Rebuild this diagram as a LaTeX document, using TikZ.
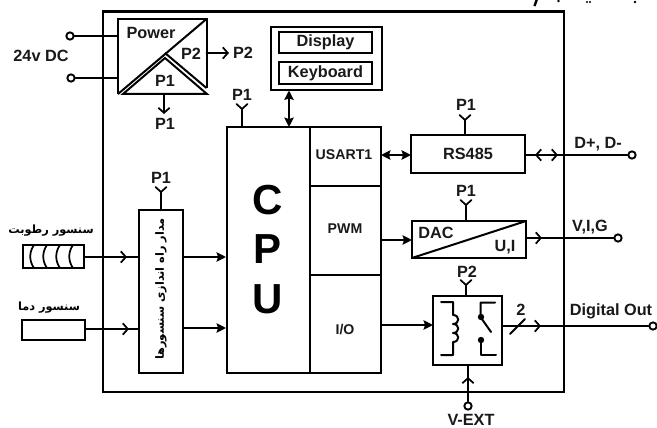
\documentclass[tikz,border=0pt]{standalone}
\usepackage{fontspec}
\setmainfont{Liberation Sans}
\newfontfamily\arabicfont[Script=Arabic]{DejaVu Sans}
\TeXXeTstate=1
\usetikzlibrary{arrows.meta}
\tikzset{
  x=0.75pt,y=-0.75pt,
  wire/.style={line width=1.5pt,line cap=round,line join=round},
  box/.style={line width=1.5pt,line join=miter},
  lbl/.style={font=\bfseries\fontsize{12.2}{14}\selectfont,inner sep=0pt,text=black!90},
  slbl/.style={font=\bfseries\fontsize{10.6}{12}\selectfont,inner sep=0pt,text=black!90},
  arlbl/.style={inner sep=0pt,font=\arabicfont\bfseries\fontsize{8.5}{10}\selectfont},
  big/.style={font=\bfseries\fontsize{31.5}{32}\selectfont,inner sep=0pt},
  term/.style={circle,draw,line width=1.4pt,fill=white,minimum size=5.5pt,inner sep=0pt},
  opn/.style={-{Straight Barb[length=3.8pt,width=8.5pt,line width=1.3pt]}},
  solidtip/.style={-{Stealth[length=7pt,width=7pt,inset=1pt]}},
  bothtip/.style={{Stealth[length=7pt,width=7pt,inset=1pt]}-{Stealth[length=7pt,width=7pt,inset=1pt]}},
  ytip/.style={line width=1.3pt,line cap=round,line join=miter},
}
\newcommand{\antenna}[3]{% x, ybase, ytip
  \draw[wire] (#1,#2) -- (#1,#3);
  \draw[ytip] (#1-5.5,#3-5) -- (#1,#3) -- (#1+5.5,#3-5);
}
\begin{document}
\begin{tikzpicture}
\useasboundingbox (0,0) rectangle (657,428);
% clipped fragments at the top edge
\begin{scope}
\clip (0,0) rectangle (657,428);
\draw[line width=1.8pt] (537,-1) -- (534.5,6);
\fill (558.5,1) circle (1.3);
\fill (587,2) circle (1.2);
\fill (590,2) circle (1.2);
\fill (635,2) circle (1.3);
\end{scope}
% outer frame
\draw[line width=2.1pt] (103,11.5) rectangle (564,392);
% power
\draw[box] (206.5,88) -- (206.5,19) -- (118,19) -- (118,94);
\draw[box] (118,94) -- (206.5,19);
\draw[box] (123,94) -- (165,58) -- (207,94) -- cycle;
\draw[box] (165,53) -- (206.5,88);
\node[term] (t1) at (70,36) {};
\node[term] (t2) at (71,78) {};
\coordinate (pwA) at (118,36);
\coordinate (pwB) at (118,78);
\draw[wire] (t1) -- (pwA);
\draw[wire] (t2) -- (pwB);
\node[lbl] at (41,56) {24v DC};
\node[lbl] at (151,33) {Power};
\node[lbl] at (191,54) {P2};
\node[lbl] at (165,81) {P1};
\coordinate (pwR) at (206.5,53);
\coordinate (p2o) at (229,53);
\draw[wire,opn] (pwR) -- (p2o);
\node[lbl] at (243,53) {P2};
\coordinate (pwD) at (164,94);
\coordinate (p1o) at (164,114);
\draw[wire,opn] (pwD) -- (p1o);
\node[lbl] at (165,124) {P1};
% display
\node[draw,line width=1.1pt,minimum width=83.25pt,minimum height=47.25pt,inner sep=0pt] (disp) at (326.5,58.5) {};
\node[draw,box,minimum width=69.75pt,minimum height=15.75pt,inner sep=0pt,lbl] (d1) at (325.5,42.5) {Display};
\node[draw,box,minimum width=69.75pt,minimum height=16.5pt,inner sep=0pt,lbl] (d2) at (325.5,73) {Keyboard};
% cpu
\draw[box] (227,127) rectangle (381,373);
\draw[box] (310,127) -- (310,373);
\draw[box] (310,186) -- (381,186);
\draw[box] (310,275) -- (381,275);
\coordinate (dsb) at (289,90.5);
\coordinate (cpt) at (289,127);
\draw[wire,bothtip] (dsb) -- (cpt);
\antenna{242}{127}{109}
\node[lbl] at (242,95) {P1};
\node[big] at (268,200) {C};
\node[big] at (268,249) {P};
\node[big] at (268,299) {U};
\node[slbl] at (344,155) {USART1};
\node[slbl] at (345,229) {PWM};
\node[slbl] at (345,330) {I/O};
% sensor driver
\draw[box] (139,210) rectangle (183,373);
\antenna{161}{210}{192}
\node[lbl] at (161,178) {P1};
\node[arlbl,rotate=90] at (161,289) {\beginR مدار راه اندازی سنسورها\endR};
% sensors
\draw[box] (23,245) rectangle (84,268);
\foreach \xx in {31,44,57,70}
  \draw[line width=1.3pt] (\xx+3,245) .. controls (\xx-2,252) and (\xx-2,261) .. (\xx+3,268);
\node[arlbl] at (51,231) {\beginR سنسور رطوبت\endR};
\draw[box] (22,320) rectangle (85,340);
\node[arlbl] at (49,308) {\beginR سنسور دما\endR};
\draw[wire] (84,257) -- (139,257);
\draw[wire] (85,329) -- (139,329);
\coordinate (s1) at (84,257); \coordinate (s1t) at (127,257);
\coordinate (s2) at (85,329); \coordinate (s2t) at (129,329);
\draw[wire,opn] (s1) -- (s1t);
\draw[wire,opn] (s2) -- (s2t);
\coordinate (a1) at (183,257); \coordinate (b1) at (226,257);
\coordinate (a2) at (183,328); \coordinate (b2) at (226,328);
\draw[wire,solidtip] (a1) -- (b1);
\draw[wire,solidtip] (a2) -- (b2);
% rs485
\node[draw,box,minimum width=85.5pt,minimum height=28.5pt,inner sep=0pt,lbl] (rs) at (468,154) {RS485};
\antenna{465}{135}{120}
\node[lbl] at (466,105) {P1};
\coordinate (u1) at (381,155); \coordinate (u2) at (411,155);
\draw[wire,bothtip] (u1) -- (u2);
\node[term] (t3) at (632,155) {};
\draw[wire] (525,155) -- (t3);
\coordinate (rsA) at (548,155); \coordinate (rsB) at (535,155); \coordinate (rsC) at (558,155);
\draw[wire,opn] (rsA) -- (rsB);
\draw[wire,opn] (rsA) -- (rsC);
\node[lbl] at (598,144) {D+, D-};
% dac
\draw[box] (412,221) rectangle (526,258);
\draw[box] (412,258) -- (526,221);
\antenna{466}{221}{205}
\node[lbl] at (466,191) {P1};
\node[lbl] at (436,233) {DAC};
\node[lbl] at (505,247) {U,I};
\coordinate (p1) at (381,240); \coordinate (p2) at (412,240);
\draw[wire,solidtip] (p1) -- (p2);
\node[term] (t4) at (618,238) {};
\draw[wire] (526,238) -- (t4);
\coordinate (da) at (526,238); \coordinate (db) at (542,238);
\draw[wire,opn] (da) -- (db);
\node[lbl] at (590,227) {V,I,G};
% relay
\draw[box] (433,296) rectangle (502,365);
\antenna{466}{296}{285}
\node[lbl] at (467,272) {P2};
\coordinate (io1) at (381,325); \coordinate (io2) at (433,325);
\draw[wire,solidtip] (io1) -- (io2);
\draw[wire] (441,302) -- (453,302) -- (453,315)
  .. controls (460,315) and (460,324) .. (453,324)
  .. controls (460,324) and (460,333) .. (453,333)
  .. controls (460,333) and (460,342) .. (453,342)
  -- (453,355) -- (441,355);
\draw[wire] (495,302.5) -- (480.5,302.5) -- (480.5,317) -- (491,332);
\draw[wire] (481,340) -- (481,355) -- (496,355);
\fill (481,317) circle (3.2);
\fill (481,340) circle (3.2);
\node[term] (t5) at (653,326) {};
\draw[wire] (502,326) -- (t5);
\coordinate (ra) at (502,326); \coordinate (rb) at (541,326);
\draw[wire,opn] (ra) -- (rb);
\draw[wire] (510,334) -- (525,319);
\node[lbl] at (521,310) {2};
\node[lbl] at (611,311) {Digital Out};
\node[term] (t6) at (468,406) {};
\draw[wire] (t6) -- (468,365);
\coordinate (va) at (468,400); \coordinate (vb) at (468,377);
\draw[wire,opn] (va) -- (vb);
\node[lbl] at (471,420) {V-EXT};
\end{tikzpicture}
\end{document}
